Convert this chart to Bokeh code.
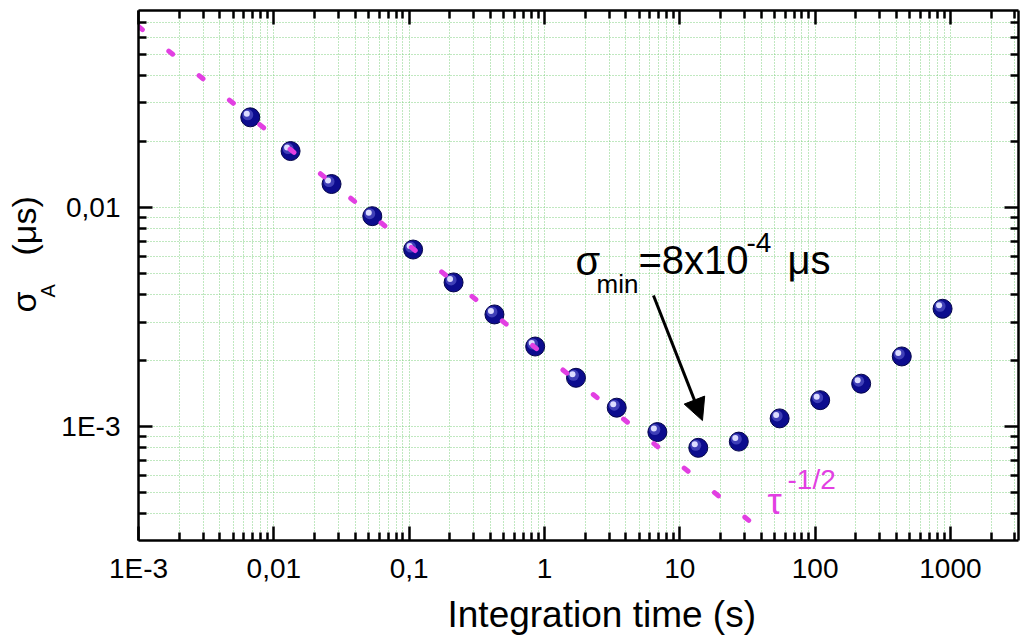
import numpy as np
from bokeh.plotting import figure
from bokeh.layouts import row, column
from bokeh.models import (LogAxis, FixedTicker, CustomJSTickFormatter, Label,
                          Arrow, NormalHead)
from bokeh.embed import file_html
from bokeh.resources import INLINE

# Allan deviation versus integration time
tau = [0.0067, 0.0133, 0.0267, 0.0534, 0.107, 0.213, 0.427, 0.854, 1.71,
       3.42, 6.83, 13.7, 27.3, 54.7, 109, 219, 437, 875]
sigma = [0.0258, 0.0181, 0.0128, 0.00913, 0.00643, 0.00455, 0.00325, 0.00232,
         0.00167, 0.00122, 0.000944, 0.00080, 0.000854, 0.00109, 0.00132,
         0.00157, 0.00209, 0.00345]

# white-noise reference slope (tau^-1/2), end points
fit_tau = [1e-3, 60]
fit_sigma = [0.0670, 0.000274]

x_tick_values = [1e-3, 1e-2, 1e-1, 1, 10, 100, 1000]
x_tick_labels = ["1E-3", "0,01", "0,1", "1", "10", "100", "1000"]
y_tick_values = [1e-3, 1e-2]
y_tick_labels = ["1E-3", "0,01"]

X_RANGE = (1e-3, 3185)
Y_RANGE = (3.02e-4, 0.0793)

FONT = "Liberation Sans"
GRID = "#80d080"
MAGENTA = "#e23fe2"

LEFT_W = 58      # strip holding the rotated y title
BOTTOM_H = 45    # strip holding the x title
W, H = 1025, 638


def label(fig, x, y, text, size, color="black", angle=0.0):
    fig.add_layout(Label(x=x, y=y, x_units="screen", y_units="screen", text=text,
                         text_font=FONT, text_font_size=size, text_color=color,
                         text_align="left", text_baseline="alphabetic",
                         angle=angle))


def blank_strip(width, height):
    f = figure(width=width, height=height, output_backend="svg",
               toolbar_location=None, x_axis_location=None,
               y_axis_location=None, min_border=0)
    f.outline_line_color = None
    f.grid.visible = False
    f.background_fill_color = "white"
    f.border_fill_color = "white"
    return f


p = figure(width=W - LEFT_W, height=H - BOTTOM_H, x_axis_type="log",
           y_axis_type="log", x_range=X_RANGE, y_range=Y_RANGE,
           output_backend="svg", toolbar_location=None,
           min_border_left=138 - LEFT_W, min_border_right=7,
           min_border_top=10, min_border_bottom=(H - BOTTOM_H) - 540)
p.background_fill_color = "white"
p.border_fill_color = "white"
p.outline_line_color = None


def minor_ticks(lo_exp, hi_exp):
    return [m * 10.0 ** e for e in range(lo_exp, hi_exp) for m in range(2, 10)]


x_ticker = FixedTicker(ticks=x_tick_values, minor_ticks=minor_ticks(-4, 4))
y_ticker = FixedTicker(ticks=y_tick_values, minor_ticks=minor_ticks(-4, -1))

fmt_code = """
const e = Math.round(Math.log10(tick));
for (let i = 0; i < vals.length; i++) {
    if (Math.round(Math.log10(vals[i])) == e) return labels[i];
}
return "";
"""
x_fmt = CustomJSTickFormatter(args=dict(vals=x_tick_values, labels=x_tick_labels), code=fmt_code)
y_fmt = CustomJSTickFormatter(args=dict(vals=y_tick_values, labels=y_tick_labels), code=fmt_code)


def style_axis(ax, ticker, formatter):
    ax.ticker = ticker
    ax.formatter = formatter
    ax.axis_line_width = 2.5
    ax.axis_line_color = "black"
    ax.major_tick_in = 14
    ax.major_tick_out = 0
    ax.minor_tick_in = 8
    ax.minor_tick_out = 0
    ax.major_tick_line_width = 2.5
    ax.minor_tick_line_width = 2.5
    ax.major_tick_line_color = "black"
    ax.minor_tick_line_color = "black"
    ax.major_label_text_font = FONT
    ax.major_label_text_font_size = "28px"
    ax.major_label_text_color = "black"


style_axis(p.xaxis[0], x_ticker, x_fmt)
style_axis(p.yaxis[0], y_ticker, y_fmt)
p.xaxis.major_label_standoff = 12
p.yaxis.major_label_standoff = 18

# mirrored frame axes with ticks only
blank = CustomJSTickFormatter(code="return '';")
top = LogAxis()
right = LogAxis()
style_axis(top, x_ticker, blank)
style_axis(right, y_ticker, blank)
for ax in (top, right):
    ax.major_label_text_font_size = "1px"
    ax.major_label_standoff = 0
p.add_layout(top, "above")
p.add_layout(right, "right")

# dotted green grid on major and minor ticks
p.xgrid.ticker = x_ticker
p.ygrid.ticker = y_ticker
for g in (p.xgrid[0], p.ygrid[0]):
    g.grid_line_color = GRID
    g.grid_line_dash = "1 2"
    g.grid_line_width = 1
    g.minor_grid_line_color = GRID
    g.minor_grid_line_dash = "1 2"
    g.minor_grid_line_width = 1

# shaded spheres for the measured points
t = np.array(tau)
s = np.array(sigma)
px_x = 1.0 / (880 / np.log10(X_RANGE[1] / X_RANGE[0]))
px_y = 1.0 / (530 / np.log10(Y_RANGE[1] / Y_RANGE[0]))
p.scatter(t, s, size=19, fill_color="#0c0c8e", line_color="#05054a", line_width=1)
p.scatter(t * 10 ** (-2.5 * px_x), s * 10 ** (2.5 * px_y), size=11,
          fill_color="#6a6ad8", line_color=None, fill_alpha=0.55)
p.scatter(t * 10 ** (-3.5 * px_x), s * 10 ** (3.5 * px_y), size=6,
          fill_color="#dcdcff", line_color=None)

p.line(fit_tau, fit_sigma, line_color=MAGENTA, line_width=5,
       line_dash="5 34", line_cap="round")

# minimum annotation
p.add_layout(Arrow(end=NormalHead(size=22, fill_color="black", line_color="black"),
                   x_start=6.39, y_start=0.003965, x_end=14.71, y_end=0.001065,
                   line_width=3, line_color="black"))

label(p, 437, 280, "σ", "40px")
label(p, 458, 257, "min", "26px")
label(p, 500, 281, "=8x10", "40px")
label(p, 608, 298, "-4", "28px")
label(p, 649, 281, "μs", "40px")

label(p, 629, 39, "τ", "36px", MAGENTA)
label(p, 649, 61, "-1/2", "28px", MAGENTA)

# y title: sigma with subscript A, reading upward
ytitle = blank_strip(LEFT_W, H - BOTTOM_H)
label(ytitle, 23, (H - BOTTOM_H) - 365, "σ", "34px", angle=np.pi / 2)
label(ytitle, 47, (H - BOTTOM_H) - 350, "A", "20px", angle=np.pi / 2)
label(ytitle, 23, (H - BOTTOM_H) - 308, "(μs)", "34px", angle=np.pi / 2)

# x title
xtitle = blank_strip(W, BOTTOM_H)
label(xtitle, 447, 24, "Integration time (s)", "37px")

layout = column(row(ytitle, p), xtitle)
open("out.html", "w").write(file_html(layout, INLINE))
